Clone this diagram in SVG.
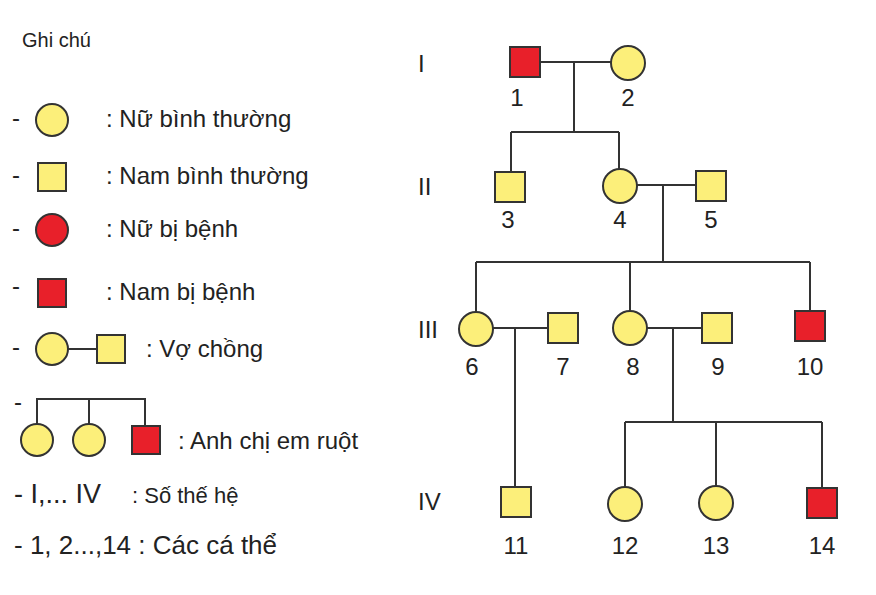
<svg xmlns="http://www.w3.org/2000/svg" width="876" height="595" viewBox="0 0 876 595">
<style>
text{font-family:"Liberation Sans",Arial,sans-serif;fill:#222}
.l{font-size:24px}.n{font-size:24px;text-anchor:middle}.g{font-size:24px}
.y{fill:#fcef7a;stroke:#333;stroke-width:2}.r{fill:#e8202a;stroke:#333;stroke-width:2}
.c{stroke:#333;stroke-width:2;fill:none}
</style>
<rect width="876" height="595" fill="#fff"/>
<g id="legend">
<text x="22" y="47" font-size="20">Ghi chú</text>
<text class="l" x="12" y="126">-</text><circle class="y" cx="52" cy="120" r="16"/><text class="l" x="106" y="127">:  Nữ bình thường</text>
<text class="l" x="12" y="183">-</text><rect class="y" x="38" y="163" width="28" height="28"/><text class="l" x="106" y="184">:  Nam bình thường</text>
<text class="l" x="12" y="236">-</text><circle class="r" cx="52" cy="230" r="16"/><text class="l" x="106" y="237">:  Nữ bị bệnh</text>
<text class="l" x="12" y="294">-</text><rect class="r" x="38" y="279" width="28" height="28"/><text class="l" x="106" y="300">:  Nam bị bệnh</text>
<text class="l" x="12" y="355">-</text><circle class="y" cx="52" cy="349" r="16"/><line class="c" x1="68" y1="349" x2="97" y2="349"/><rect class="y" x="97" y="335" width="28" height="28"/><text class="l" x="146" y="357">: Vợ chồng</text>
<text class="l" x="14" y="410">-</text>
<path class="c" d="M37 424V399H145V426M89 399V424"/>
<circle class="y" cx="37" cy="440" r="16"/><circle class="y" cx="89" cy="440" r="16"/><rect class="r" x="132" y="426" width="28" height="28"/>
<text class="l" x="178" y="449">: Anh chị em ruột</text>
<text x="14" y="503" font-size="27">- I,... IV</text><text x="132" y="503" font-size="22">: Số thế hệ</text>
<text x="14" y="554" font-size="26">- 1, 2...,14 : Các cá thể</text>
</g>
<g id="generations">
<text class="g" x="418" y="72">I</text><text class="g" x="418" y="195">II</text><text class="g" x="418" y="338">III</text><text class="g" x="418" y="510">IV</text>
</g>
<g id="connectors">
<path class="c" d="M540 62H611M574 62V132M511 132H619M511 132V172M619 132V169"/>
<path class="c" d="M637 185H695M663 185V262M476 262H810M476 262V312M630 262V311M810 262V311"/>
<path class="c" d="M493 328H548M515 328V487M647 328H702M673 328V422M625 422H822M625 422V487M716 422V486M822 422V488"/>
</g>
<g id="n1"><rect class="r" x="510" y="47" width="30" height="30"/><text class="n" x="517" y="106">1</text></g>
<g id="n2"><circle class="y" cx="628" cy="63" r="17"/><text class="n" x="628" y="106">2</text></g>
<g id="n3"><rect class="y" x="495" y="172" width="30" height="30"/><text class="n" x="508" y="228">3</text></g>
<g id="n4"><circle class="y" cx="620" cy="186" r="17"/><text class="n" x="620" y="228">4</text></g>
<g id="n5"><rect class="y" x="696" y="171" width="30" height="30"/><text class="n" x="711" y="228">5</text></g>
<g id="n6"><circle class="y" cx="476" cy="329" r="17"/><text class="n" x="472" y="375">6</text></g>
<g id="n7"><rect class="y" x="548" y="313" width="30" height="30"/><text class="n" x="563" y="375">7</text></g>
<g id="n8"><circle class="y" cx="630" cy="328" r="17"/><text class="n" x="633" y="375">8</text></g>
<g id="n9"><rect class="y" x="702" y="313" width="30" height="30"/><text class="n" x="718" y="375">9</text></g>
<g id="n10"><rect class="r" x="795" y="311" width="30" height="30"/><text class="n" x="810" y="375">10</text></g>
<g id="n11"><rect class="y" x="501" y="487" width="30" height="30"/><text class="n" x="516" y="554">11</text></g>
<g id="n12"><circle class="y" cx="625" cy="504" r="17"/><text class="n" x="625" y="554">12</text></g>
<g id="n13"><circle class="y" cx="716" cy="503" r="17"/><text class="n" x="716" y="554">13</text></g>
<g id="n14"><rect class="r" x="807" y="488" width="30" height="30"/><text class="n" x="822" y="554">14</text></g>
</svg>
